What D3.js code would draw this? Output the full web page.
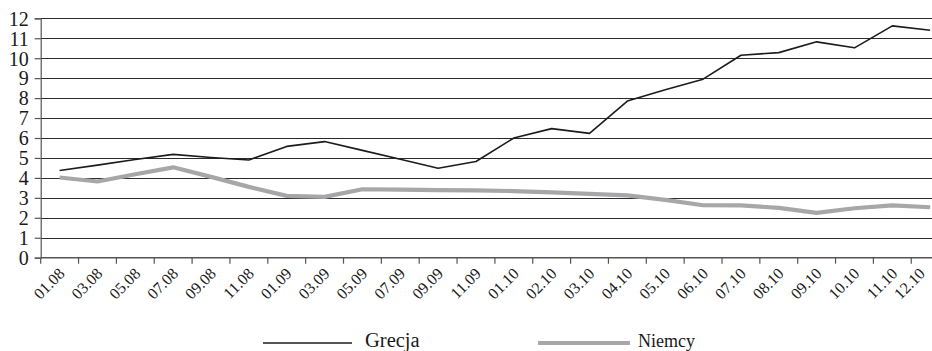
<!DOCTYPE html>
<html>
<head>
<meta charset="utf-8">
<script src="https://cdn.jsdelivr.net/npm/d3@7/dist/d3.min.js"></script>
<style>
  html, body { margin: 0; padding: 0; background: #fff; }
  svg { display: block; }
  text { font-family: "Liberation Serif", "Times New Roman", serif; fill: #1a1a1a; }
</style>
</head>
<body>
<svg id="chart" width="932" height="351"></svg>
<script>
// Monthly labels (every second month in 2008–2009, every month in 2010)
const categories = [
  "01.08", "03.08", "05.08", "07.08", "09.08", "11.08",
  "01.09", "03.09", "05.09", "07.09", "09.09", "11.09",
  "01.10", "02.10", "03.10", "04.10", "05.10", "06.10",
  "07.10", "08.10", "09.10", "10.10", "11.10", "12.10"
];

const grecja = [
  4.37, 4.64, 4.92, 5.18, 5.02, 4.90,
  5.58, 5.82, 5.38, 4.93, 4.48, 4.82,
  6.00, 6.47, 6.23, 7.85, 8.42, 8.95,
  10.15, 10.28, 10.82, 10.52, 11.62, 11.40
];

const niemcy = [
  4.02, 3.82, 4.18, 4.53, 4.05, 3.55,
  3.10, 3.05, 3.43, 3.41, 3.39, 3.37,
  3.34, 3.27, 3.20, 3.12, 2.90, 2.63,
  2.62, 2.50, 2.25, 2.48, 2.62, 2.53
];

const yTicks = [0, 1, 2, 3, 4, 5, 6, 7, 8, 9, 10, 11, 12];

const seriesNames = ["Grecja", "Niemcy"];

const svg = d3.select("#chart");

const plotLeft = 40.7, plotTop = 18.3, plotBottom = 257.7;
const step = 37.85;
const svgWidth = 932;

const x = d3.scaleBand()
  .domain(categories)
  .range([plotLeft, plotLeft + step * categories.length])
  .paddingInner(0)
  .paddingOuter(0);

const y = d3.scaleLinear()
  .domain([0, 12])
  .range([plotBottom, plotTop]);

const xRight = x.range()[1];

// horizontal gridlines
svg.append("g")
  .selectAll("line")
  .data(yTicks.filter(d => d > 0))
  .join("line")
  .attr("x1", plotLeft)
  .attr("x2", xRight)
  .attr("y1", d => Math.round(y(d)) + 0.5)
  .attr("y2", d => Math.round(y(d)) + 0.5)
  .attr("stroke", "#2b2b2b")
  .attr("stroke-width", 1);

// y axis
const yAxis = svg.append("g")
  .attr("transform", `translate(${plotLeft},0)`)
  .call(d3.axisLeft(y).tickValues(yTicks).tickSize(6).tickPadding(6).tickFormat(d3.format("d")));
yAxis.select(".domain").attr("stroke", "#555").attr("stroke-width", 1.2);
yAxis.selectAll(".tick line").attr("stroke", "#555").attr("stroke-width", 1.2);
yAxis.selectAll(".tick text")
  .style("font-family", "'Liberation Serif', serif")
  .style("font-size", "20px")
  .attr("fill", "#1a1a1a")
  .attr("dy", "0.34em");

// x axis: tick marks sit on category boundaries
const xAxisG = svg.append("g").attr("transform", `translate(0,${plotBottom})`);
xAxisG.append("line")
  .attr("x1", plotLeft).attr("x2", xRight)
  .attr("y1", 0).attr("y2", 0)
  .attr("stroke", "#555").attr("stroke-width", 1.4);
const boundaries = categories.map(c => x(c)).concat([xRight]);
xAxisG.selectAll("line.tk")
  .data(boundaries)
  .join("line")
  .attr("class", "tk")
  .attr("x1", d => d).attr("x2", d => d)
  .attr("y1", 0).attr("y2", 6)
  .attr("stroke", "#555").attr("stroke-width", 1.2);

// rotated category labels, kept inside the drawing width
xAxisG.selectAll("text.lbl")
  .data(categories)
  .join("text")
  .attr("class", "lbl")
  .attr("text-anchor", "end")
  .attr("transform", d => {
    const ax = Math.min(x(d) + x.bandwidth() / 2 + 6, svgWidth - 6);
    return `translate(${ax},${17}) rotate(-45)`;
  })
  .style("font-size", "16px")
  .text(d => d);

// series lines
const cx = c => x(c) + x.bandwidth() / 2;
const line = d3.line()
  .x((d, i) => cx(categories[i]))
  .y(d => y(d));

svg.append("path")
  .datum(niemcy)
  .attr("fill", "none")
  .attr("stroke", "#a7a7a9")
  .attr("stroke-width", 4.2)
  .attr("stroke-linejoin", "round")
  .attr("d", line);

svg.append("path")
  .datum(grecja)
  .attr("fill", "none")
  .attr("stroke", "#1c1c1c")
  .attr("stroke-width", 1.6)
  .attr("stroke-linejoin", "round")
  .attr("d", line);

// legend
const legend = svg.append("g");
const legendItems = [
  { name: seriesNames[0], x1: 263, x2: 352, color: "#1c1c1c", width: 1.6, size: 20.5, gap: 13 },
  { name: seriesNames[1], x1: 538, x2: 630, color: "#a7a7a9", width: 4.2, size: 18, gap: 8 }
];
legendItems.forEach(it => {
  legend.append("line")
    .attr("x1", it.x1).attr("x2", it.x2)
    .attr("y1", 343).attr("y2", 343)
    .attr("stroke", it.color)
    .attr("stroke-width", it.width);
  legend.append("text")
    .attr("x", it.x2 + it.gap)
    .attr("y", 346.5)
    .style("font-size", it.size + "px")
    .text(it.name);
});
</script>
</body>
</html>
